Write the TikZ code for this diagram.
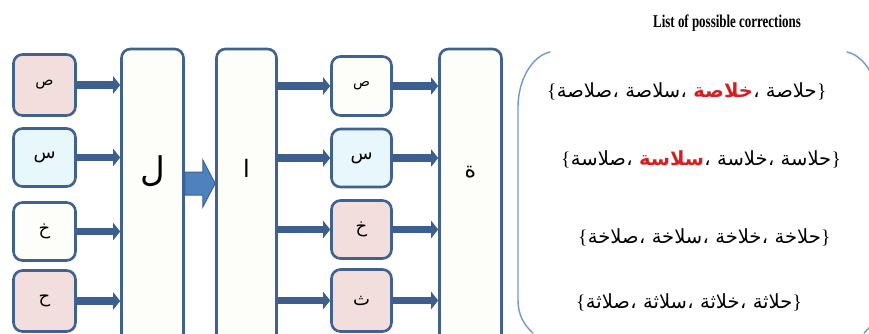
\documentclass[tikz,border=0pt]{standalone}
\usepackage{fontspec}
\usepackage{graphicx}
\usetikzlibrary{arrows.meta,calc}
\setmainfont{Liberation Serif}
\newfontfamily\arabicfont[Script=Arabic]{DejaVu Sans}

\definecolor{boxline}{HTML}{41618E}
\definecolor{arrowcol}{HTML}{3D5F8E}
\definecolor{pinkfill}{HTML}{F2DEDD}
\definecolor{cyanfill}{HTML}{E7F7FC}
\definecolor{whitefill}{HTML}{FDFDFA}
\definecolor{blockfill}{HTML}{4F81BD}
\definecolor{blockline}{HTML}{3A6396}
\definecolor{panelline}{HTML}{7198D0}
\definecolor{hired}{HTML}{D42020}

\newcommand\hi[1]{\textcolor{hired}{\bfseries #1}}

% one braced list of four words, laid out from left to right:
% #1 name prefix, #2 baseline start point, #3..#6 the words
\newcommand\corrline[6]{%
  \node[corr] (#1o)  at #2 {\normalfont\{};
  \node[corr] (#1w1) at (#1o.base east) {#3};
  \node[corr] (#1k1) at (#1w1.base east) {،};
  \node[corr] (#1w2) at ($(#1k1.base east)+(6,0)$) {#4};
  \node[corr] (#1k2) at (#1w2.base east) {،};
  \node[corr] (#1w3) at ($(#1k2.base east)+(6,0)$) {#5};
  \node[corr] (#1k3) at (#1w3.base east) {،};
  \node[corr] (#1w4) at ($(#1k3.base east)+(6,0)$) {#6};
  \node[corr] (#1c)  at (#1w4.base east) {\normalfont\}};
}

\begin{document}
\begin{tikzpicture}[x=1pt,y=-1pt,
  box/.style={draw=boxline, line width=2.6pt, rounded corners=9pt, inner sep=0pt,
    text=black, font=\arabicfont\fontsize{18}{20}\selectfont},
  lbox/.style={box, minimum width=62pt},
  rbox/.style={box, minimum width=60pt},
  tallbox/.style={box, fill=whitefill, minimum height=310pt},
  bigletter/.style={inner sep=0pt, font=\arabicfont\fontsize{#1}{#1}\selectfont},
  flow/.style={draw=arrowcol, line width=7.5pt, -{Triangle[length=7pt,width=17pt]}},
  block/.style={fill=blockfill, draw=blockline, line width=1pt, line join=miter},
  panel/.style={draw=panelline, line width=1.4pt, line cap=round},
  corr/.style={inner sep=0pt, anchor=base west, font=\arabicfont\fontsize{19.5}{22}\selectfont},
]
\useasboundingbox (0,0) rectangle (869,334);
\clip (0,0) rectangle (869,334);

% input letters
\node[lbox, fill=pinkfill,  minimum height=61pt] (l1) at (44.5,85)    {\fontsize{15}{15}\selectfont ص};
\node[lbox, fill=cyanfill,  minimum height=58pt] (l2) at (44.5,157.5) {س};
\node[lbox, fill=whitefill, minimum height=58pt] (l3) at (44.5,231.5) {خ};
\node[lbox, fill=pinkfill,  minimum height=61pt] (l4) at (44.5,301)   {ح};

% tall letter columns
\node[tallbox, minimum width=62pt] (lam)  at (152.5,204) {};
\node[tallbox, minimum width=60pt] (alef) at (246.5,204) {};
\node[tallbox, minimum width=62pt] (ta)   at (470.5,204) {};
\node[bigletter=34] (lamtxt)  at (152.5,171) {ل};
\node[bigletter=24] (aleftxt) at (246.5,168) {ا};
\node[bigletter=22] (tatxt)   at (470.5,172) {ة};

% candidate letters
\node[rbox, fill=whitefill, minimum height=59pt] (r1) at (361.5,86)    {\fontsize{14}{14}\selectfont ص};
\node[rbox, fill=cyanfill,  minimum height=58pt] (r2) at (361.5,158)   {س};
\node[rbox, fill=pinkfill,  minimum height=58pt] (r3) at (361.5,229.5) {خ};
\node[rbox, fill=pinkfill,  minimum height=62pt] (r4) at (361.5,300.5) {ث};

% connectors
\foreach \i in {1,...,4} {
  \draw[flow] (l\i.east) -- (l\i.east -| lam.west);
  \draw[flow] (alef.east |- r\i.west) -- (r\i.west);
  \draw[flow] (r\i.east) -- (r\i.east -| ta.west);
}

% block arrow between the two columns
\coordinate (bay) at (0,183.5);
\draw[block] ($(lam.east |- bay)+(0,-11.5)$) -- ++(18,0) -- ++(0,-12)
  -- (alef.west |- bay) -- ($(lam.east |- bay)+(18,23.5)$) -- ++(0,-12)
  -- ($(lam.east |- bay)+(0,11.5)$) -- cycle;

% list of corrections
\node[inner sep=0pt, font=\bfseries\fontsize{18}{18}\selectfont] (title) at (727,23)
  {\scalebox{0.72}[1]{List of possible corrections}};

\draw[panel] (550,52) .. controls (532,56) and (518,80) .. (518,107)
  -- (518,300) .. controls (518,315) and (524,325) .. (533,333);
\draw[panel] (847,52) .. controls (865,56) and (879,80) .. (879,107)
  -- (879,300) .. controls (879,315) and (873,325) .. (864,333);

\corrline{ca}{(547,98)}{صلاصة}{سلاصة}{\hi{خلاصة}}{حلاصة}
\corrline{cb}{(561,165)}{صلاسة}{\hi{سلاسة}}{خلاسة}{حلاسة}
\corrline{cc}{(578,243)}{صلاخة}{سلاخة}{خلاخة}{حلاخة}
\corrline{cd}{(576,308)}{صلاثة}{سلاثة}{خلاثة}{حلاثة}
\end{tikzpicture}
\end{document}
